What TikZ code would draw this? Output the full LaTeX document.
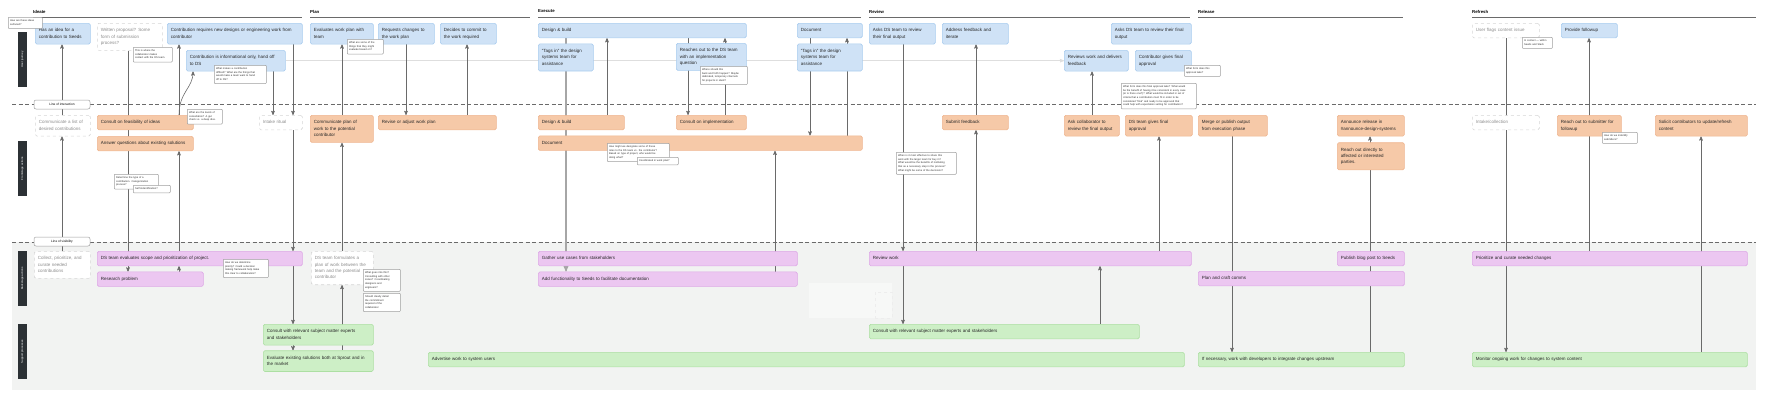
\documentclass[tikz,border=0pt]{standalone}
\usepackage{fontspec}
\setmainfont{Liberation Sans}
\usepackage{xcolor}
\usepackage{tikz}
\usetikzlibrary{arrows}
\usetikzlibrary{positioning}

\definecolor{jfill}{HTML}{CFE2F6}
\definecolor{jdraw}{HTML}{A9CCEE}
\definecolor{ffill}{HTML}{F6C9A8}
\definecolor{fdraw}{HTML}{EFB690}
\definecolor{bfill}{HTML}{ECC7F1}
\definecolor{bdraw}{HTML}{DDA8E6}
\definecolor{sfill}{HTML}{CDEFC6}
\definecolor{sdraw}{HTML}{ADDFA3}
\definecolor{stage}{HTML}{F2F3F2}
\definecolor{lanedark}{HTML}{2C3135}
\definecolor{linegray}{HTML}{6A6A6A}
\definecolor{ghostdraw}{HTML}{D6D6D6}
\definecolor{ghosttext}{HTML}{8C8C8C}
\definecolor{notedraw}{HTML}{9E9E9E}

\newcommand\boxfont{\fontsize{4.5}{6.3}\selectfont}
\newcommand\notefont{\fontsize{2.6}{3.6}\selectfont}

\pgfdeclarelayer{back}
\pgfdeclarelayer{links}
\pgfsetlayers{back,links,main}

\begin{document}
\begin{tikzpicture}[x=1pt,y=-1pt,>=stealth',
  card/.style={rectangle,rounded corners=1.5pt,anchor=north west,align=left,
    inner xsep=3.5pt,inner ysep=4.1pt,line width=0.6pt,font=\boxfont,text=black!85,
    execute at begin node=\strut,execute at end node=\strut},
  journey/.style={card,fill=jfill,draw=jdraw},
  front/.style={card,fill=ffill,draw=fdraw},
  back/.style={card,fill=bfill,draw=bdraw},
  support/.style={card,fill=sfill,draw=sdraw},
  ghost/.style={card,fill=white,draw=ghostdraw,dashed,text=ghosttext},
  note/.style={rectangle,rounded corners=0.8pt,anchor=north west,align=left,
    inner xsep=1.8pt,inner ysep=2pt,fill=white,draw=notedraw,line width=0.5pt,
    font=\notefont,text=black!80,execute at begin node=\strut,execute at end node=\strut},
  lane/.style={rectangle,rotate=90,fill=lanedark,text=white,minimum width=55pt,
    minimum height=9pt,inner sep=0pt,font=\fontsize{2.8}{3}\selectfont},
  linelabel/.style={rectangle,rounded corners=2pt,fill=white,draw=notedraw,line width=0.5pt,
    minimum width=56pt,minimum height=9pt,inner sep=0pt,font=\fontsize{3.2}{4}\selectfont},
  phase/.style={anchor=west,inner sep=0pt,font=\fontsize{4.3}{5}\selectfont\bfseries},
  phaseline/.style={draw=linegray,line width=0.8pt},
  dashline/.style={draw=linegray,line width=0.6pt,dash pattern=on 4pt off 2.5pt},
  flow/.style={->,draw=linegray,line width=0.6pt},
  bigflow/.style={->,draw=black!35,line width=1.1pt},
  faintflow/.style={->,draw=black!13,line width=0.6pt}]

  \useasboundingbox (0,0) rectangle (1768,402);

  % stages and lines
  \begin{pgfonlayer}{back}
    \fill[stage] (12,242) rectangle (1756,390);
    \draw[dashline] (12,104) -- (1756,104);
    \draw[dashline] (12,242) -- (1756,242);
  \end{pgfonlayer}

  \node[phase] (ideate) at (33,11.5) {Ideate};
  \node[phase] (plan) at (310,11.5) {Plan};
  \node[phase] (execute) at (538,11.5) {Execute};
  \node[phase] (review) at (869,11.5) {Review};
  \node[phase] (release) at (1198,11.5) {Release};
  \node[phase] (refresh) at (1472,11.5) {Refresh};
  \draw[phaseline] (33,17) -- (302,17);
  \draw[phaseline] (310,17) -- (530,17);
  \draw[phaseline] (538,17) -- (861,17);
  \draw[phaseline] (869,17) -- (1190,17);
  \draw[phaseline] (1198,17) -- (1403,17);
  \draw[phaseline] (1472,17) -- (1756,17);

  \node[lane] (lanejourney) at (22.5,59.5) {User journey};
  \node[lane] (lanefront) at (22.5,168.5) {Frontstage actions};
  \node[lane] (laneback) at (22.5,278.5) {Backstage actions};
  \node[lane] (lanesupport) at (22.5,351.5) {Support processes};

  \node[linelabel] (interaction) at (62,104.5) {Line of interaction};
  \node[linelabel] (visibility) at (62,241.5) {Line of visibility};

  % user journey
  \node[journey,text width=48pt] (idea) at (35,23) {Has an idea for a\\contribution to Seeds};
  \node[ghost,text width=58pt] (written) at (97,23) {Written proposal? Some\\form of submission\\process?};
  \node[journey,text width=128pt] (requires) at (167,23) {Contribution requires new designs or engineering work from\\contributor};
  \node[journey,text width=92pt] (info) at (186,50) {Contribution is informational only, hand off\\to DS};
  \node[journey,text width=56pt] (evalplan) at (310,23) {Evaluates work plan with\\team};
  \node[journey,text width=49pt] (reqchg) at (378,23) {Requests changes to\\the work plan};
  \node[journey,text width=49pt] (commit) at (440,23) {Decides to commit to\\the work required};
  \node[journey,text width=201pt] (jdesign) at (538,23) {Design \& build};
  \node[journey,text width=48pt,below=5.5pt of jdesign.south west,anchor=north west] (jtags) {“Tags in” the design\\systems team for\\assistance};
  \node[journey,text width=63pt] (reach) at (676,43) {Reaches out to the DS team\\with an implementation\\question};
  \node[journey,text width=58pt] (jdoc) at (797,23) {Document};
  \node[journey,text width=58pt,below=5.5pt of jdoc] (jtags2) {“Tags in” the design\\systems team for\\assistance};
  \node[journey,text width=59pt] (askrev) at (869,23) {Asks DS team to review\\their final output};
  \node[journey,text width=59pt] (address) at (942,23) {Address feedback and\\iterate};
  \node[journey,text width=73pt] (askrev2) at (1111,23) {Asks DS team to review their final\\output};
  \node[journey,text width=57pt] (revfb) at (1064,50) {Reviews work and delivers\\feedback};
  \node[journey,text width=49pt] (approve) at (1135,50) {Contributor gives final\\approval};
  \node[ghost,text width=60pt] (flags) at (1472,23) {User flags content issue};
  \node[journey,text width=49pt] (followup) at (1561,23) {Provide followup};

  % frontstage
  \node[ghost,text width=48pt] (comm) at (35,115) {Communicate a list of\\desired contributions};
  \node[front,text width=89pt] (feas) at (97,115) {Consult on feasibility of ideas};
  \node[front,text width=89pt,below=6pt of feas] (answer) {Answer questions about existing solutions};
  \node[ghost,text width=36pt] (intake) at (259,115) {Intake ritual};
  \node[front,text width=56pt] (commplan) at (310,115) {Communicate plan of\\work to the potential\\contributor};
  \node[front,text width=111pt] (revise) at (378,115) {Revise or adjust work plan};
  \node[front,text width=79pt] (fdesign) at (538,115) {Design \& build};
  \node[front,text width=63pt] (consimpl) at (676,115) {Consult on implementation};
  \node[front,text width=317pt,below=5.5pt of fdesign.south west,anchor=north west] (fdoc) {Document};
  \node[front,text width=59pt] (submit) at (942,115) {Submit feedback};
  \node[front,text width=48pt] (askcollab) at (1064,115) {Ask collaborator to\\review the final output};
  \node[front,text width=60pt] (dsapprove) at (1125,115) {DS team gives final\\approval};
  \node[front,text width=62pt] (merge) at (1198,115) {Merge or publish output\\from execution phase};
  \node[front,text width=60pt] (announce) at (1337,115) {Announce release in\\\#announce-design-systems};
  \node[front,text width=60pt,below=6pt of announce] (reachout) {Reach out directly to\\affected or interested\\parties.};
  \node[ghost,text width=60pt] (intake2) at (1472,115) {Intake/collection};
  \node[front,text width=57pt] (reachsub) at (1557,115) {Reach out to submitter for\\followup};
  \node[front,text width=85pt] (solicit) at (1655,115) {Solicit contributors to update/refresh\\content};

  % backstage
  \node[ghost,text width=49pt] (collect) at (34,251) {Collect, prioritize, and\\curate needed\\contributions};
  \node[back,text width=198pt] (dseval) at (97,251) {DS team evaluates scope and prioritization of project.};
  \node[back,text width=99pt,below=5.5pt of dseval.south west,anchor=north west] (research) {Research problem};
  \node[ghost,text width=55pt] (formulate) at (311,251) {DS team formulates a\\plan of work between the\\team and the potential\\contributor};
  \node[back,text width=252pt] (gather) at (538,251) {Gather use cases from stakeholders};
  \node[back,text width=252pt,below=5.5pt of gather] (addfunc) {Add functionality to Seeds to facilitate documentation};
  \node[back,text width=315pt] (reviewwork) at (869,251) {Review work};
  \node[back,text width=60pt] (blog) at (1337,251) {Publish blog post to Seeds};
  \node[back,text width=199pt] (plancomms) at (1198,271) {Plan and craft comms};
  \node[back,text width=268pt] (prioritize) at (1472,251) {Prioritize and curate needed changes};
  % faint leftover area
  \node[rectangle,anchor=north west,fill=white,fill opacity=0.45,minimum width=83pt,
    minimum height=35pt,inner sep=0pt] (faintarea) at (809,283) {};
  \node[rectangle,anchor=north west,draw=black!7,dashed,line width=0.4pt,minimum width=17pt,
    minimum height=26pt,inner sep=0pt] (faintbox) at (875,292) {};

  % support processes
  \node[support,text width=103pt] (consultsme) at (263,324) {Consult with relevant subject matter experts\\and stakeholders};
  \node[support,text width=103pt,below=5pt of consultsme] (evalexist) {Evaluate existing solutions both at Sprout and in\\the market};
  \node[support,text width=749pt] (advertise) at (428,352) {Advertise work to system users};
  \node[support,text width=263pt] (consultsme2) at (869,324) {Consult with relevant subject matter experts and stakeholders};
  \node[support,text width=199pt] (necessary) at (1198,352) {If necessary, work with developers to integrate changes upstream};
  \node[support,text width=268pt] (monitor) at (1472,352) {Monitor ongoing work for changes to system content};

  % notes
  \node[note,text width=30.4pt] (n1) at (8,17) {How are these ideas\\surfaced?};
  \node[note,text width=35.4pt] (n2) at (133,47) {This is where the\\collaborator makes\\contact with the DS team.};
  \node[note,text width=48.4pt] (n3) at (214,65) {What makes a contribution\\difficult? What are the things that\\would make a team want to hand\\off to DS?};
  \node[note,text width=31.4pt] (n4) at (187,109) {What are the levels of\\consultation? A gut\\check vs. a deep dive.};
  \node[note,text width=40.4pt] (n5) at (114,174) {Determine the type of a\\contribution. Categorization\\process?};
  \node[note,text width=33.4pt] (n6) at (133,185) {Self indentification?};
  \node[note,text width=32.4pt] (n7) at (347,39) {What are some of the\\things that they might\\evaluate based on?};
  \node[note,text width=41.4pt] (n8) at (223,259) {How do we determine\\priority? Could a decision\\making framework help make\\this clear to collaborators?};
  \node[note,text width=33.4pt] (n9) at (363,269) {What goes into this?\\Consulting with other\\zones? Coordinating\\designers and\\engineers?};
  \node[note,text width=33.4pt] (n10) at (363,293) {Should clearly detail\\the commitment\\required of the\\collaborator};
  \node[note,text width=43.4pt] (n11) at (700,66) {Where should this\\back and forth happen? Maybe\\dedicated, temporary channels\\for projects in slack?};
  \node[note,text width=58.4pt] (n12) at (607,143) {How might we designate some of these\\roles to the DS team vs. the contributor?\\Based on type of project, who would be\\doing what?};
  \node[note,text width=37.4pt] (n13) at (637,157) {Coordinated in work plan?};
  \node[note,text width=56.4pt] (n14) at (896,152) {When is it most effective to share this\\work with the larger team for buy in?\\What would be the benefits of instituting\\that as a necessary step in the process?\\What might be some of the decisions?};
  \node[note,text width=71.4pt] (n15) at (1121,83) {What form does this final approval take? What would\\be the benefit of having it be consistent in every case\\(or is there one?)? What would be included in set of\\criteria that a contribution must fit in order to be\\considered “final” and ready to be approved that\\could help with expectation setting for contributors?};
  \node[note,text width=32.4pt] (n16) at (1184,65) {What form does this\\approval take?};
  \node[note,text width=26.4pt] (n17) at (1522,37) {In context — within\\Seeds and Slack};
  \node[note,text width=31.4pt] (n18) at (1602,132) {How do we indentify\\submitters?};

  % connectors
  \begin{pgfonlayer}{links}
    \draw[faintflow] (info.east) -- (revfb.west);
    % ideate
    \draw[flow] (62,0 |- collect.north) -- (62,0 |- comm.south);
    \draw[flow] (62,0 |- comm.north) -- (62,0 |- idea.south);
    \draw[flow] (128,0 |- written.south) -- (128,0 |- research.north);
    \draw[flow] (179,0 |- research.north) -- (179,0 |- dseval.south);
    \draw[flow] (179,0 |- dseval.north) -- (179,0 |- answer.south);
    \draw[flow] (179,0 |- feas.north) -- (179,0 |- requires.south);
    \draw[flow] (179,0 |- feas.north) .. controls (179,92) and (193,88) .. (193,0 |- info.south);
    \draw[flow] (273,0 |- info.south) -- (273,0 |- intake.north);
    \draw[flow] (293,0 |- requires.south) -- (293,0 |- intake.north);
    \draw[flow] (293,0 |- intake.south) -- (293,0 |- dseval.north);
    \draw[flow] (293,0 |- dseval.south) -- (293,0 |- consultsme.north);
    \draw[flow] (293,0 |- consultsme.south) -- (293,0 |- evalexist.north);
    % plan
    \draw[flow] (342,0 |- commplan.north) -- (342,0 |- evalplan.south);
    \draw[flow] (342,0 |- formulate.north) -- (342,0 |- commplan.south);
    \draw[flow] (342,0 |- evalexist.north) -- (342,0 |- formulate.south);
    \draw[flow] (406,0 |- reqchg.south) -- (406,0 |- revise.north);
    \draw[flow] (467,0 |- revise.north) -- (467,0 |- commit.south);
    % execute
    \draw[bigflow] (566,0 |- jdesign.south) -- (566,0 |- addfunc.north);
    \draw[flow] (607,0 |- fdesign.north) -- (607,0 |- jdesign.south);
    \draw[flow] (688,0 |- jdesign.south) -- (688,0 |- consimpl.north);
    \draw[flow] (725,0 |- consimpl.north) -- (725,0 |- jdesign.south);
    \draw[flow] (810,0 |- jdoc.south) -- (810,0 |- fdoc.north);
    \draw[flow] (847,0 |- fdoc.north) -- (847,0 |- jdoc.south);
    \draw[flow] (775,0 |- addfunc.north) -- (775,0 |- fdoc.south);
    % review
    \draw[flow] (903,0 |- askrev.south) -- (903,0 |- reviewwork.north);
    \draw[flow] (903,0 |- reviewwork.south) -- (903,0 |- consultsme2.north);
    \draw[flow] (976,0 |- submit.north) -- (976,0 |- address.south);
    \draw[flow] (976,0 |- reviewwork.north) -- (976,0 |- submit.south);
    \draw[flow] (1092,0 |- askcollab.north) -- (1092,0 |- revfb.south);
    \draw[flow] (1159,0 |- reviewwork.north) -- (1159,0 |- dsapprove.south);
    \draw[flow] (1100,0 |- consultsme2.north) -- (1100,0 |- reviewwork.south);
    % release
    \draw[flow] (1232,0 |- merge.south) -- (1232,0 |- necessary.north);
    \draw[flow] (1370,0 |- necessary.north) -- (1370,0 |- announce.south);
    % refresh
    \draw[flow] (1506,0 |- flags.south) -- (1506,0 |- monitor.north);
    \draw[flow] (1589,0 |- prioritize.north) -- (1589,0 |- followup.south);
    \draw[flow] (1701,0 |- monitor.north) -- (1701,0 |- solicit.south);
  \end{pgfonlayer}
\end{tikzpicture}
\end{document}
